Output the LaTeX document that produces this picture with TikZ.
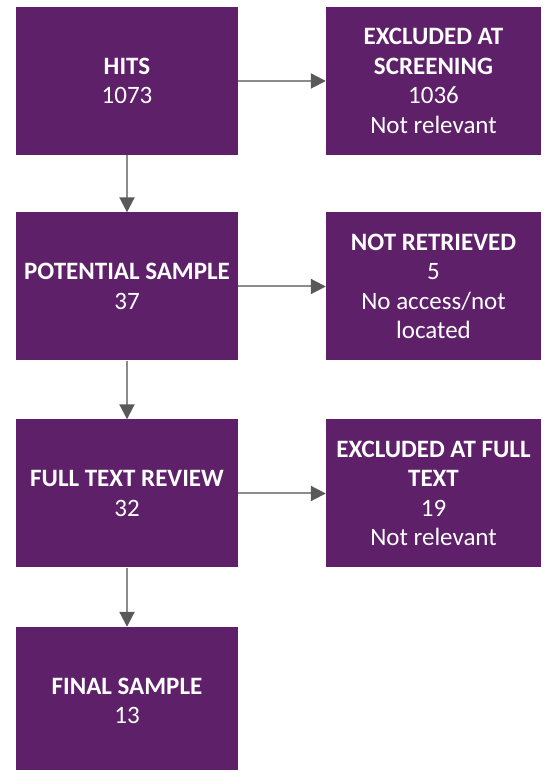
\documentclass[tikz,border=0pt]{standalone}
\usepackage{fontspec}
\setmainfont{Carlito}
\usetikzlibrary{arrows.meta}
\definecolor{boxpurple}{RGB}{94,32,105}
\definecolor{lineg}{RGB}{140,140,140}
\definecolor{headg}{RGB}{89,89,89}
\tikzset{
  stage/.style={fill=boxpurple, text=white, align=center, inner sep=0pt,
    minimum width=222pt, minimum height=148pt,
    font=\fontsize{25}{29.5}\selectfont},
  reason/.style={stage, minimum width=215pt},
  flow/.style={draw=lineg, line width=2pt,
    -{Triangle[length=15pt,width=15pt,color=headg,fill=headg]}}
}
\begin{document}
\begin{tikzpicture}[x=1pt,y=1pt]
      \useasboundingbox (0,0) rectangle (544,770);
      \clip (0,0) rectangle (544,770);
      \path
        (127,689) node[stage] (hits){\textbf{HITS}\\1073}
        (127,483.5) node[stage] (potential){\textbf{POTENTIAL SAMPLE}\\37}
        (127,276.5) node[stage] (fulltext){\textbf{FULL TEXT REVIEW}\\32}
        (127,69) node[stage] (final){\textbf{FINAL SAMPLE}\\13}
        (433.5,689) node[reason] (screen){\textbf{EXCLUDED AT}\\\textbf{SCREENING}\\1036\\Not relevant}
        (433.5,483.5) node[reason] (retrieve){\textbf{NOT RETRIEVED}\\5\\No access/not\\located}
        (433.5,276.5) node[reason] (exclfull){\textbf{EXCLUDED AT FULL}\\\textbf{TEXT}\\19\\Not relevant};
      \begin{scope}[flow]
        \draw (hits) to (potential);
        \draw (potential) to (fulltext);
        \draw (fulltext) to (final);
        \draw (hits) to (screen);
        \draw (potential) to (retrieve);
        \draw (fulltext) to (exclfull);
      \end{scope}
    \end{tikzpicture}
\end{document}
